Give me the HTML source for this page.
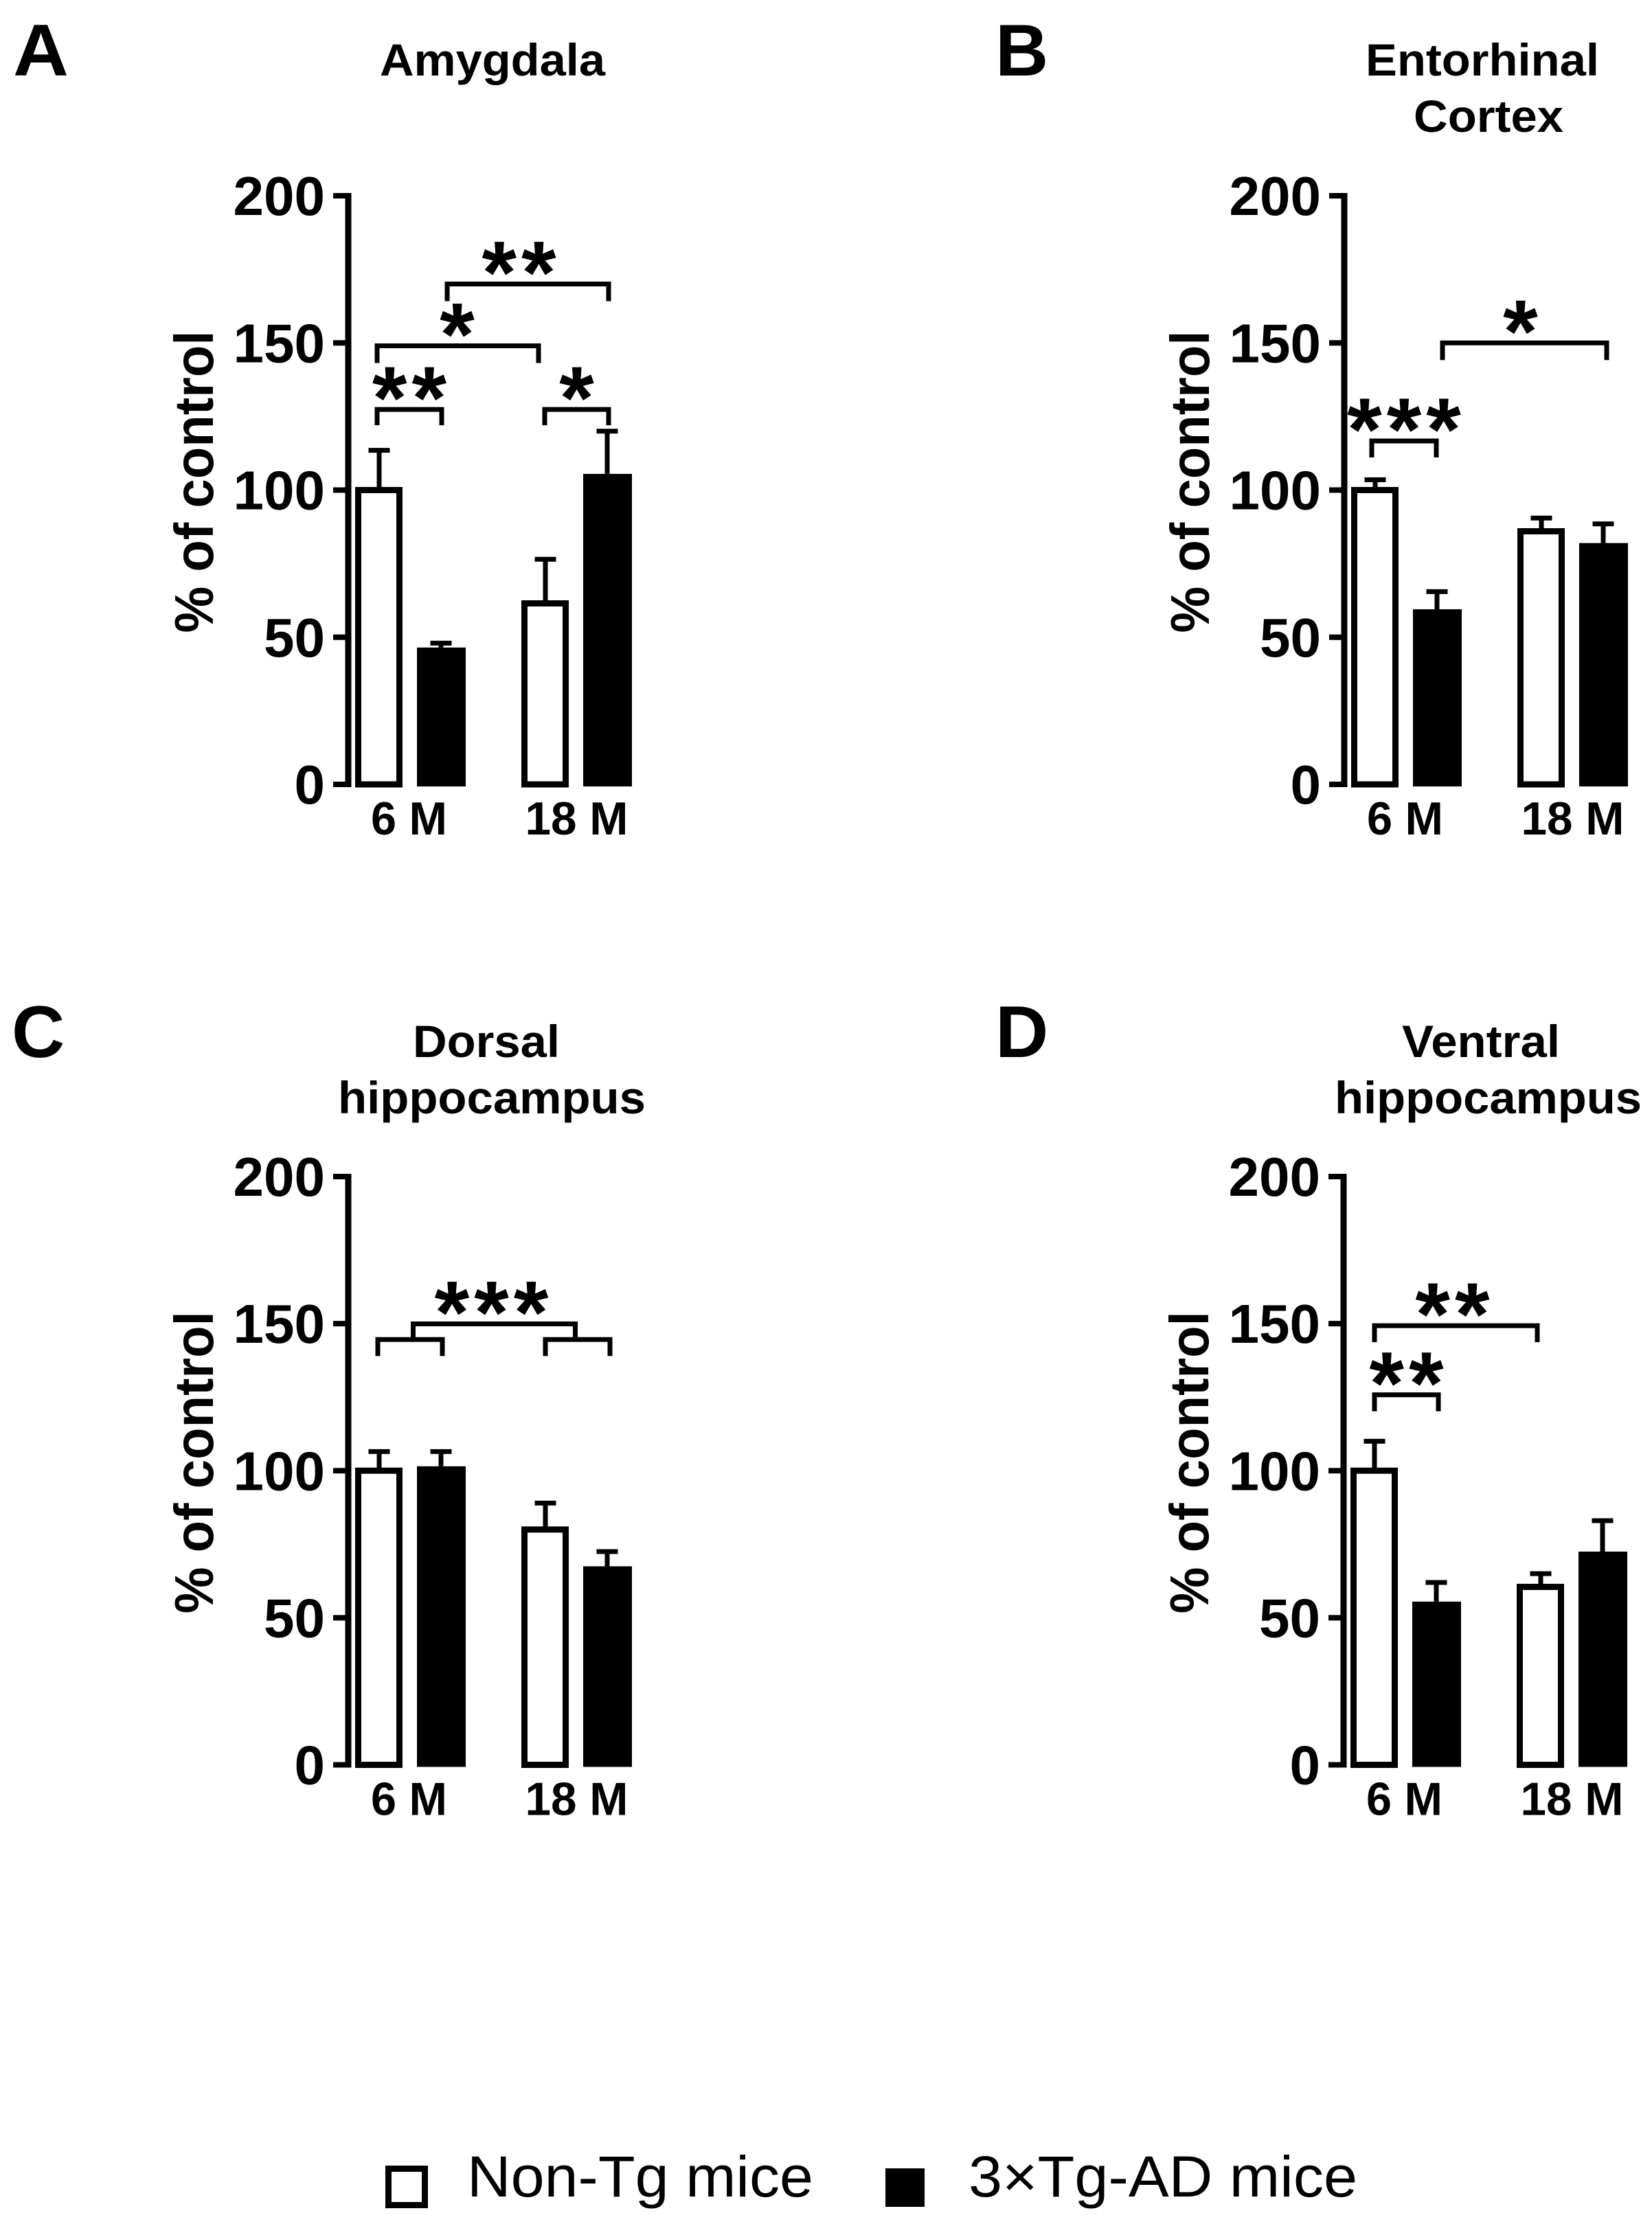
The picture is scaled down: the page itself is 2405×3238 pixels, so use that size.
<!DOCTYPE html>
<html lang="en">
<head>
<meta charset="utf-8">
<title>Amyloid measures by brain region</title>
<style>
html,body{margin:0;padding:0;background:#fff;}
svg{display:block;}
text{font-family:"Liberation Sans",Arial,sans-serif;fill:#000;}
.b{font-weight:700;}
</style>
</head>
<body>
<svg id="figure" xmlns="http://www.w3.org/2000/svg" width="2405" height="3238" viewBox="0 0 2405 3238">
  <rect x="0" y="0" width="2405" height="3238" fill="#fff"/>

  <text class="b" x="19" y="110" font-size="107" textLength="81" lengthAdjust="spacingAndGlyphs">A</text>
  <text class="b" x="1449" y="110" font-size="107">B</text>
  <text class="b" x="17" y="1539" font-size="107">C</text>
  <text class="b" x="1449" y="1539" font-size="107">D</text>

  <text class="b" x="553" y="110" font-size="66" textLength="328" lengthAdjust="spacingAndGlyphs">Amygdala</text>
  <text class="b" x="1988" y="110" font-size="66" textLength="340" lengthAdjust="spacingAndGlyphs">Entorhinal</text>
  <text class="b" x="2058" y="192" font-size="66" textLength="218" lengthAdjust="spacingAndGlyphs">Cortex</text>
  <text class="b" x="601" y="1539" font-size="66" textLength="214" lengthAdjust="spacingAndGlyphs">Dorsal</text>
  <text class="b" x="492" y="1621" font-size="66" textLength="448" lengthAdjust="spacingAndGlyphs">hippocampus</text>
  <text class="b" x="2041" y="1539" font-size="66" textLength="230" lengthAdjust="spacingAndGlyphs">Ventral</text>
  <text class="b" x="1943" y="1621" font-size="66" textLength="447" lengthAdjust="spacingAndGlyphs">hippocampus</text>

  <g id="legend">
    <rect x="565.5" y="3157.5" width="53" height="53" fill="#fff" stroke="#000" stroke-width="9"/>
    <text x="680" y="3198" font-size="84" textLength="504" lengthAdjust="spacingAndGlyphs">Non-Tg mice</text>
    <rect x="1289" y="3157" width="57" height="56" fill="#000"/>
    <text x="1410" y="3198" font-size="84" textLength="566" lengthAdjust="spacingAndGlyphs">3×Tg-AD mice</text>
  </g>
</svg>
<script>
// Chart data
const tickLabels = [0, 50, 100, 150, 200];
const ageGroups = ['6 M', '18 M'];
const seriesNames = ['non-tg', '3xtg-ad'];

const amygdalaMeans = [100, 46.5, 61.5, 105.5];
const amygdalaErrors = [13.5, 1.5, 15, 14.5];
const entorhinalMeans = [100, 59.5, 86, 82];
const entorhinalErrors = [3.5, 6, 4.5, 6.5];
const dorsalMeans = [100, 101.5, 80, 67.5];
const dorsalErrors = [6.5, 5, 9, 5];
const ventralMeans = [100, 55.5, 60.5, 72.5];
const ventralErrors = [10, 6.5, 4.5, 10.5];

// Significance: [from bar, to bar, level in %, stars, from nudge, to nudge, star nudge, end drop]
const amygdalaBrackets = [
  [1, 3, 170, '**', 9, 2, -13, 25],
  [0, 2, 149, '*', -3, -10, -1, 25],
  [0, 1, 127.4, '**', -3, 1, 0, 23],
  [2, 3, 127.4, '*', -1, 2, 0, 23]
];
const entorhinalBrackets = [
  [1, 3, 150, '*', 8, 5, -6, 25],
  [0, 1, 116.7, '***', -5, -1, 0, 24]
];
const dorsalBrackets = [
  [0, 1, 144.6, '', -2, 2, 0, 24],
  [2, 3, 144.6, '', 0, 4, 0, 24],
  [0.55, 2.55, 149.9, '***', 0, -6, -4, 22]
];
const ventralBrackets = [
  [0, 2, 149.3, '**', 0, -5, -5, 24],
  [0, 1, 125.8, '**', 0, 3, 0, 24]
];

const SVG_NS = 'http://www.w3.org/2000/svg';
const figure = document.getElementById('figure');

function node(parent, tag, attrs, text) {
  const el = document.createElementNS(SVG_NS, tag);
  for (const k in attrs) el.setAttribute(k, attrs[k]);
  if (text !== undefined) el.textContent = text;
  parent.appendChild(el);
  return el;
}

function drawPanel(name, dx, top, bottom, means, errors, brackets) {
  const yOf = function (v) { return bottom - (bottom - top) * v / 200; };
  const barLeft = function (i) {
    const g = Math.floor(i / 2), s = i % 2;
    return dx + 517 + g * 242 + s * 90;
  };
  const barMid = function (p) {
    const lo = Math.floor(p), hi = Math.min(3, lo + 1);
    const a = barLeft(lo) + 35, b = barLeft(hi) + 35;
    return a + (b - a) * (p - lo);
  };

  const panel = node(figure, 'g', {});
  
  

  // Y axis
  const axis = node(panel, 'line', { x1: dx + 507, x2: dx + 507, y1: top - 4, y2: bottom + 4, stroke: '#000', 'stroke-width': 9 });
  
  

  tickLabels.forEach(function (t) {
    const y = yOf(t);
    const tick = node(panel, 'line', { x1: dx + 485, x2: dx + 507, y1: y, y2: y, stroke: '#000', 'stroke-width': 8 });
    
    
    const label = node(panel, 'text', { x: dx + 473, y: y + 28, 'font-size': 80, 'text-anchor': 'end', class: 'b' }, String(t));
    
    
  });

  // Y axis title
  const mid = (top + bottom) / 2 - 12;
  const yTitle = node(panel, 'text', {
    x: 0, y: 0, 'font-size': 80, class: 'b', 'text-anchor': 'middle', textLength: 440, lengthAdjust: 'spacingAndGlyphs',
    transform: 'translate(' + (dx + 310) + ' ' + mid + ') rotate(-90)'
  }, '% of control');
  
  

  // Bars and error bars
  means.forEach(function (m, i) {
    const left = barLeft(i);
    const white = i % 2 === 0;
    const cx = left + 35;
    const yTop = yOf(m + errors[i]);
    const series = seriesNames[i % 2];
    const group = ageGroups[Math.floor(i / 2)].replace(' ', '').toLowerCase();

    const stem = node(panel, 'line', { x1: cx, x2: cx, y1: yTop, y2: yOf(m), stroke: '#000', 'stroke-width': 7 });
    
    
    const cap = node(panel, 'line', { x1: cx - 15.5, x2: cx + 15.5, y1: yTop, y2: yTop, stroke: '#000', 'stroke-width': 7 });
    
    

    const bar = white
      ? node(panel, 'rect', { x: left + 4.5, y: yOf(m), width: 60, height: bottom - yOf(m), fill: '#fff', stroke: '#000', 'stroke-width': 9 })
      : node(panel, 'rect', { x: left, y: yOf(m), width: 71, height: bottom + 3 - yOf(m), fill: '#000' });
    
    
  });

  // X labels
  ageGroups.forEach(function (lab, g) {
    const cx = dx + (g === 0 ? 595.5 : 839.5);
    const width = g === 0 ? 111 : 150;
    const t = node(panel, 'text', {
      x: cx, y: bottom + 73, 'font-size': 68, class: 'b', 'text-anchor': 'middle', textLength: width, lengthAdjust: 'spacingAndGlyphs'
    }, lab);
    
    
  });

  // Significance brackets
  brackets.forEach(function (b, k) {
    const x1 = barMid(b[0]) + b[4], x2 = barMid(b[1]) + b[5], y = yOf(b[2]), drop = b[7];
    const path = node(panel, 'path', {
      d: 'M' + x1 + ' ' + (y + drop) + 'V' + y + 'H' + x2 + 'V' + (y + drop),
      fill: 'none', stroke: '#000', 'stroke-width': 7
    });
    
    
    if (b[3]) {
      const star = node(panel, 'text', {
        x: (x1 + x2) / 2 + b[6] + 3.5, y: y + 28, 'font-size': 130, class: 'b', 'text-anchor': 'middle', 'letter-spacing': 7
      }, b[3]);
      
      
    }
  });
}

drawPanel('amygdala', 0, 285, 1142, amygdalaMeans, amygdalaErrors, amygdalaBrackets);
drawPanel('entorhinal', 1450, 285, 1142, entorhinalMeans, entorhinalErrors, entorhinalBrackets);
drawPanel('dorsal', 0, 1713, 2569.5, dorsalMeans, dorsalErrors, dorsalBrackets);
drawPanel('ventral', 1449, 1713, 2569.5, ventralMeans, ventralErrors, ventralBrackets);
</script>
</body>
</html>
